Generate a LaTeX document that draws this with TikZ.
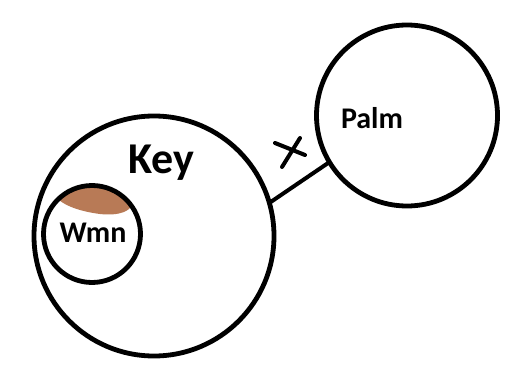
\documentclass[tikz,border=0pt]{standalone}
\usepackage{fontspec}
\setmainfont{Carlito}
\usepackage{tikz}
\usetikzlibrary{positioning,calc}
\definecolor{blobBrown}{HTML}{B87A56}

\begin{document}
\begin{tikzpicture}[
  x=1pt, y=-1pt,
  ring/.style={circle, draw, line width=4.8pt, inner sep=0pt, outer sep=0pt},
  lbl/.style={anchor=base, inner sep=0pt, font=\bfseries},
  link/.style={line width=4pt},
  crossline/.style={line width=4pt, line cap=round}
]
  \useasboundingbox (0,0) rectangle (505,377);
  \fill[white] (0,0) rectangle (505,377);
  % brown patch inside the small ring
  \begin{scope}
    \clip (92,234) circle[radius=48];
    \fill[blobBrown] (58,199) .. controls (66,180) and (118,176) .. (133,199)
      .. controls (134,212) and (118,216) .. (100,214)
      .. controls (84,212) and (66,207) .. (58,199) -- cycle;
  \end{scope}
  \node[ring, minimum size=240pt] (key) at (154,236) {};
  \node[ring, minimum size=97pt] (wmn) at (92,234) {};
  \node[ring, minimum size=181pt] (palm) at (407,115.5) {};
  \node[lbl, font=\bfseries\fontsize{44}{44}\selectfont] (keytxt) at (161,173) {Key};
  \node[lbl, font=\bfseries\fontsize{30}{30}\selectfont] (wmntxt) at (93,242) {Wmn};
  \node[lbl, font=\bfseries\fontsize{30}{30}\selectfont] (palmtxt) at (372,128) {Palm};
  \draw[link] (key.16.6) -- (palm.211);
  \coordinate (cross) at (290,152);
  \draw[crossline] ($(cross)+(-15,-9)$) -- ($(cross)+(15,3)$);
  \draw[crossline] ($(cross)+(10,-14)$) -- ($(cross)+(-8,15)$);
\end{tikzpicture}
\end{document}
